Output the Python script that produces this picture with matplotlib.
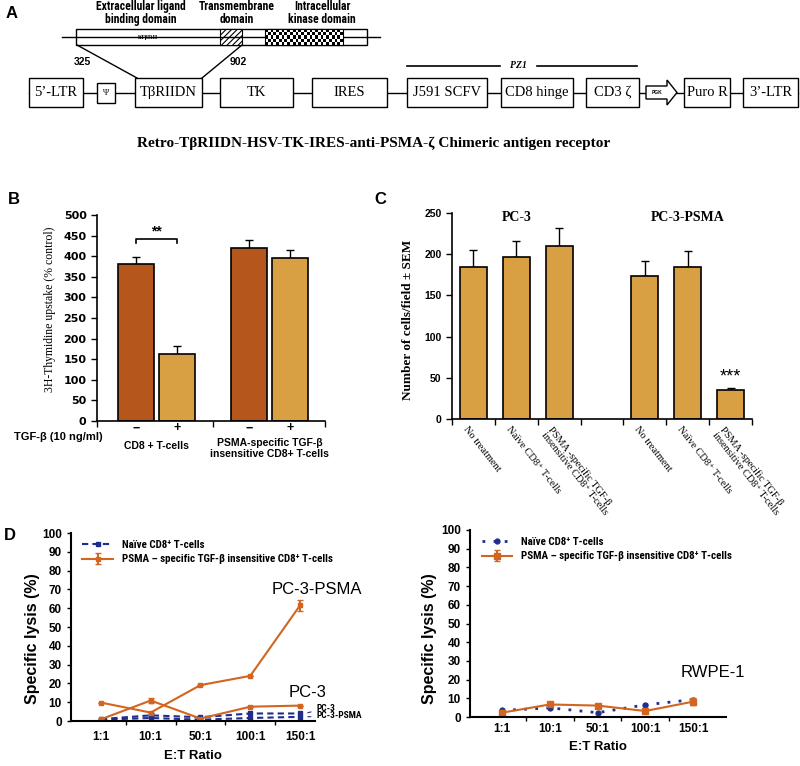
import numpy as np
import matplotlib
matplotlib.use('Agg')
import matplotlib.pyplot as plt
import matplotlib.font_manager as fm
from matplotlib.patches import Rectangle, Polygon

W, H = 800, 766

# ---- A : construct ----
a_boxes = ['5’-LTR', 'Ψ', 'TβRIIDN', 'TK', 'IRES', 'J591 SCFV', 'CD8 hinge', 'CD3 ζ', 'Puro R', '3’-LTR']
a_box_x = [(29, 83), (97, 115), (135, 202), (220, 293), (312, 387),
           (407, 487), (501, 573), (586, 639), (684, 730), (743, 798)]
a_domains = ['Extracellular ligand\nbinding domain', 'Transmembrane\ndomain', 'Intracellular\nkinase domain']
a_domain_x = [141, 237, 322]
a_caption = 'Retro-TβRIIDN-HSV-TK-IRES-anti-PSMA-ζ Chimeric antigen receptor'

# ---- B : thymidine uptake ----
b_groups = ['CD8 + T-cells', 'PSMA-specific TGF-β\ninsensitive CD8+ T-cells']
b_signs = ['−', '+', '−', '+']
b_values = [380, 163, 420, 396]
b_errors = [18, 20, 20, 20]

# ---- C : cell counts ----
c_groups = ['PC-3', 'PC-3-PSMA']
c_labels = ['No treatment', 'Naïve CD8⁺ T-cells', 'PSMA -specific TGF-β\ninsensitive CD8⁺ T-cells']
c_pc3 = [185, 196, 210]
c_pc3_err = [20, 20, 22]
c_psma = [174, 184, 35]
c_psma_err = [18, 20, 3]

# ---- D : lysis ----
et_ratio = ['1:1', '10:1', '50:1', '100:1', '150:1']
d_naive_pc3 = [1.0, 3.0, 2.0, 4.0, 4.0]
d_naive_psma = [0.7, 1.6, 0.7, 1.6, 2.2]
d_car_psma = [9.8, 4.5, 19.1, 24.0, 61.5]
d_car_psma_err = [0, 0, 0, 0, 3.0]
d_car_pc3 = [0.9, 10.9, 1.3, 7.6, 8.2]
d_car_pc3_err = [0, 1.5, 0, 0, 0]
rwpe_naive = [3.5, 4.9, 2.3, 6.5, 9.3]
rwpe_car = [2.3, 6.7, 6.1, 3.2, 8.2]
rwpe_car_err = [1.5, 0, 0, 0, 1.8]

DARK = '#B5561D'
LIGHT = '#D9A043'
ORANGE = '#D2651F'
NAVY = '#1F2D8C'

SERIF = ['Liberation Serif', 'DejaVu Serif']
SANS = ['Liberation Sans', 'DejaVu Sans']
names = {f.name for f in fm.fontManager.ttflist}
narrow = None
for n in ['Liberation Sans Narrow', 'Arial Narrow', 'Roboto Condensed']:
    if n in names:
        narrow = n
        break
NARROW = [narrow or 'Liberation Sans', 'DejaVu Sans']
NS = 1.05 if narrow else 0.98

plt.rcParams['font.family'] = SANS
plt.rcParams['hatch.linewidth'] = 0.8

fig = plt.figure(figsize=(W / 100, H / 100), dpi=100)


def px_axes(l, t, r, b):
    return fig.add_axes([l / W, 1 - b / H, (r - l) / W, (b - t) / H])


def clean(ax, lw=1.2):
    for s in ['top', 'right']:
        ax.spines[s].set_visible(False)
    for s in ['left', 'bottom']:
        ax.spines[s].set_linewidth(lw)
    ax.tick_params(direction='out', width=1, length=4)


# ---------------- B ----------------
axB = px_axes(97, 215, 325, 421)
pos_b = np.concatenate([np.arange(2), np.arange(2) + 2.77])
axB.bar(pos_b, b_values, width=0.88, color=[DARK, LIGHT, DARK, LIGHT],
        edgecolor='black', linewidth=1.2, zorder=2)
axB.errorbar(pos_b, b_values, yerr=[np.zeros(4), b_errors], fmt='none',
             ecolor='black', elinewidth=1, capsize=3, zorder=1)
axB.set_xlim(-0.95, 4.62)
axB.set_ylim(0, 500)
axB.set_yticks(np.arange(0, 501, 50))
axB.set_xticks([-0.95, (pos_b[1] + pos_b[2]) / 2, 4.62])
axB.set_xticklabels([])
clean(axB)
for lab in axB.get_yticklabels():
    lab.set_fontfamily('DejaVu Sans')
    lab.set_fontweight('bold')
    lab.set_fontsize(8)
axB.set_ylabel('3H-Thymidine upstake (% control)', fontfamily=SERIF, fontsize=8.5)
axB.yaxis.set_label_coords(-0.18, 0.54)
tr = axB.get_xaxis_transform()
for x, s in zip(pos_b, b_signs):
    axB.text(x, -0.035, s, transform=tr, ha='center', va='center', fontsize=9, fontweight='bold')
axB.text(pos_b[:2].mean(), -0.12, b_groups[0], transform=tr, ha='center', va='center',
         fontsize=7.5, fontweight='bold')
axB.text(pos_b[2:].mean(), -0.135, b_groups[1], transform=tr, ha='center', va='center',
         fontsize=7.5, fontweight='bold', linespacing=1.1)
axB.plot([pos_b[0], pos_b[0], pos_b[1], pos_b[1]], [432, 442, 442, 432], color='black', lw=1.2)
axB.text(pos_b[:2].mean(), 444, '**', ha='center', va='bottom', fontsize=10, fontweight='bold')

# ---------------- C ----------------
axC = px_axes(452, 213, 752, 419)
pos_c = np.concatenate([np.arange(3), np.arange(3) + 4])
vals_c = c_pc3 + c_psma
errs_c = c_pc3_err + c_psma_err
axC.bar(pos_c, vals_c, width=0.63, color=LIGHT, edgecolor='black', linewidth=1.2, zorder=2)
axC.errorbar(pos_c, vals_c, yerr=[np.zeros(6), errs_c], fmt='none',
             ecolor='black', elinewidth=1, capsize=3, zorder=1)
axC.set_xlim(-0.5, 6.5)
axC.set_ylim(0, 250)
axC.set_yticks(np.arange(0, 251, 50))
axC.set_xticks(np.arange(-0.5, 7, 1))
axC.set_xticklabels([])
clean(axC)
for lab in axC.get_yticklabels():
    lab.set_fontweight('bold')
    lab.set_fontsize(7.5)
axC.set_ylabel('Number of cells/field ± SEM', fontfamily=SERIF, fontsize=9.5, fontweight='bold')
axC.yaxis.set_label_coords(-0.127, 0.48)
trc = axC.get_xaxis_transform()
for x, lab in zip(pos_c, c_labels * 2):
    axC.text(x - 0.12, -0.03, lab, transform=trc, ha='left', va='top', rotation=-52,
             rotation_mode='anchor', fontfamily=SERIF, fontsize=7.5, linespacing=1.0)
for g, name in enumerate(c_groups):
    axC.text(pos_c[g * 3 + 1], 245, name, ha='center', va='center',
             fontfamily=SERIF, fontsize=10, fontweight='bold')
axC.text(pos_c[-1], vals_c[-1] + 6, '***', ha='center', va='bottom', fontsize=13)

# ---------------- D left ----------------
axD = px_axes(71, 533, 315, 721)
xs = np.arange(len(et_ratio))
axD.plot(xs, d_naive_pc3, color=NAVY, ls=(0, (3, 2)), lw=1.5, marker='s', ms=3.5,
         label='Naïve CD8⁺ T-cells')
axD.plot(xs, d_naive_psma, color=NAVY, ls=(0, (3, 2)), lw=1.5, marker='s', ms=3.5)
axD.errorbar(xs, d_car_psma, yerr=d_car_psma_err, color=ORANGE, lw=1.5, marker='s', ms=3.5,
             capsize=2, label='PSMA – specific TGF-β insensitive CD8⁺ T-cells')
axD.errorbar(xs, d_car_pc3, yerr=d_car_pc3_err, color=ORANGE, lw=1.5, marker='s', ms=3.5,
             capsize=2)
axD.set_xlim(-0.6, 4.3)
axD.set_ylim(0, 100)
axD.set_yticks(np.arange(0, 101, 10))
axD.set_xticks(xs)
axD.set_xticklabels(et_ratio)
axD.set_xticks(xs[:-1] + 0.5, minor=True)
axD.text(4.34, 69.7, 'PC-3-PSMA', ha='center', va='center', fontsize=12)
axD.text(4.16, 15.4, 'PC-3', ha='center', va='center', fontsize=12)
axD.annotate('PC-3', xy=(4.1, 4.0), xytext=(4.33, 6.9), ha='left', va='center',
             fontsize=6.5 * NS, fontweight='bold', fontfamily=NARROW,
             arrowprops=dict(arrowstyle='-', color=NAVY, lw=0.8), annotation_clip=False)
axD.annotate('PC-3-PSMA', xy=(4.1, 2.2), xytext=(4.33, 2.7), ha='left', va='center',
             fontsize=6.5 * NS, fontweight='bold', fontfamily=NARROW,
             arrowprops=dict(arrowstyle='-', color=NAVY, lw=0.8), annotation_clip=False)

# ---------------- D right ----------------
axR = px_axes(470, 530, 726, 717)
axR.plot(xs, rwpe_naive, color=NAVY, ls=(0, (1, 3)), lw=2, marker='o', ms=3.5,
         label='Naïve CD8⁺ T-cells')
axR.errorbar(xs, rwpe_car, yerr=rwpe_car_err, color=ORANGE, lw=1.5, marker='s', ms=4,
             capsize=2, label='PSMA – specific TGF-β insensitive CD8⁺ T-cells')
axR.set_xlim(-0.67, 4.69)
axR.set_ylim(0, 100)
axR.set_yticks(np.arange(0, 101, 10))
axR.set_xticks(xs)
axR.set_xticklabels(et_ratio)
axR.set_xticks(xs[:-1] + 0.5, minor=True)
axR.text(4.41, 24, 'RWPE-1', ha='center', va='center', fontsize=12)

for ax, lx, ly, pad in [(axD, -0.127, 0.44, 7), (axR, -0.129, 0.42, 4)]:
    clean(ax, lw=1.5)
    ax.tick_params(axis='x', which='major', length=0, pad=pad)
    ax.tick_params(axis='x', which='minor', length=3, width=1, direction='out')
    ax.tick_params(axis='y', length=3)
    for lab in ax.get_xticklabels() + ax.get_yticklabels():
        lab.set_fontweight('bold')
        lab.set_fontsize(8.5)
    ax.set_ylabel('Specific lysis (%)', fontsize=11.5, fontweight='bold')
    ax.yaxis.set_label_coords(lx, ly)
    ax.set_xlabel('E:T Ratio', fontsize=9.5, fontweight='bold', labelpad=5)
    ax.legend(loc='upper left', bbox_to_anchor=(0.02, 1.0), frameon=False, handlelength=2.8,
              labelspacing=0.45, borderaxespad=0.2,
              prop=dict(family=NARROW, size=7.5 * NS, weight='bold'))

# ---------------- overlay (panel A + letters) ----------------
ov = fig.add_axes([0, 0, 1, 1])
ov.axis('off')

for lt, (x, y) in zip('ABCD', [(12, 14), (14, 200), (380, 200), (10, 535)]):
    ov.text(x, y, lt, fontsize=12, fontweight='bold', ha='center', va='center')

# receptor domain bar
ov.plot([62, 380], [37, 37], color='black', lw=1)
ov.add_patch(Rectangle((76, 29), 291, 16, facecolor='white', edgecolor='black', lw=1))
ov.add_patch(Rectangle((220, 29), 22, 16, facecolor='white', edgecolor='black', lw=0.8, hatch='//////'))
checker = np.indices((5, 28)).sum(axis=0) % 2
ov.imshow(checker, cmap='gray', extent=(265, 343, 45, 29), aspect='auto',
          interpolation='nearest', zorder=3)
ov.add_patch(Rectangle((265, 29), 78, 16, facecolor='none', edgecolor='black', lw=0.8, zorder=4))
ov.text(148, 37, 'hTβRII', fontfamily=SERIF, fontsize=4.5, fontweight='bold', ha='center', va='center')
for x, lab in zip(a_domain_x, a_domains):
    ov.text(x, 13, lab, ha='center', va='center', fontfamily=NARROW, fontsize=8 * NS,
            fontweight='bold', linespacing=1.05)
ov.text(82, 62, '325', ha='center', va='center', fontsize=7.5, fontweight='bold')
ov.text(238, 62, '902', ha='center', va='center', fontsize=7.5, fontweight='bold')
ov.plot([77, 137], [45, 78], color='black', lw=1)
ov.plot([242, 202], [45, 78], color='black', lw=1)

# PZ1
ov.plot([407, 500], [66, 66], color='black', lw=1.2)
ov.plot([537, 637], [66, 66], color='black', lw=1.2)
ov.text(518, 66, 'PZ1', ha='center', va='center', fontfamily=SERIF, fontsize=7,
        fontstyle='italic', fontweight='bold')

# construct boxes
ov.plot([29, 798], [92.5, 92.5], color='black', lw=1, zorder=1)
for lab, (x0, x1) in zip(a_boxes, a_box_x):
    if lab == 'Ψ':
        y0, h, fs = 83, 20, 6
    else:
        y0, h, fs = 78, 29, 10.5
    ov.add_patch(Rectangle((x0, y0), x1 - x0, h, facecolor='white', edgecolor='black', lw=1, zorder=2))
    ov.text((x0 + x1) / 2, y0 + h / 2, lab, ha='center', va='center', fontfamily=SERIF,
            fontsize=fs, zorder=3)
ov.add_patch(Polygon([(646, 86), (667, 86), (667, 80), (677, 92.5), (667, 105), (667, 99), (646, 99)],
                     closed=True, facecolor='white', edgecolor='black', lw=1, zorder=2))
ov.text(657, 92.5, 'PGK', ha='center', va='center', fontsize=3.5, fontweight='bold', zorder=3)
ov.text(374, 143, a_caption, ha='center', va='center', fontfamily=SERIF, fontsize=11, fontweight='bold')

ov.text(58, 437, 'TGF-β (10 ng/ml)', ha='center', va='center', fontsize=8, fontweight='bold')

ov.set_xlim(0, W)
ov.set_ylim(H, 0)

fig.savefig('out.png', dpi=100)
